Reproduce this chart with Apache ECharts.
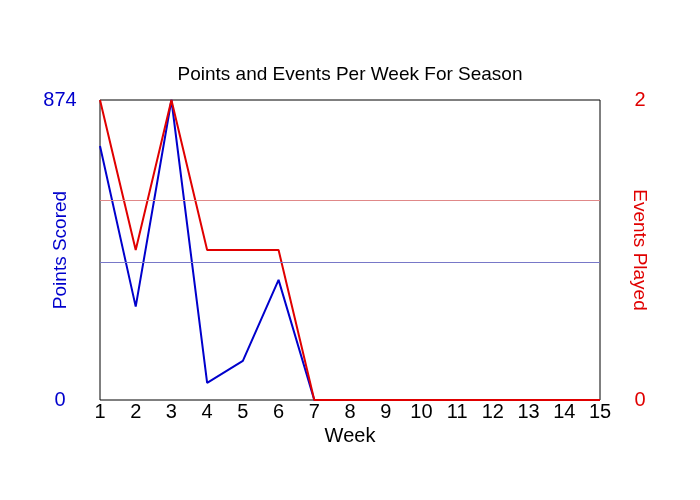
<!DOCTYPE html>
<html>
<head>
<meta charset="utf-8">
<script src="https://cdn.jsdelivr.net/npm/echarts@6/dist/echarts.min.js"></script>
<style>
  html, body { margin: 0; padding: 0; background: #fff; }
  #chart { width: 700px; height: 500px; }
</style>
</head>
<body>
<div id="chart"></div>
<script>
// weeks of the season
var weeks = [1, 2, 3, 4, 5, 6, 7, 8, 9, 10, 11, 12, 13, 14, 15];
// points scored each week
var points = [740, 272, 874, 50, 114, 350, 0, 0, 0, 0, 0, 0, 0, 0, 0];
// events played each week (red line)
var events = [2, 1, 2, 1, 1, 1, 0, 0, 0, 0, 0, 0, 0, 0, 0];

var pointsMax = 874;
var eventsMax = 2;

// average over the weeks that were actually played
function playedAverage(vals) {
  var sum = 0, n = 0;
  for (var i = 0; i < vals.length; i++) {
    if (events[i] > 0) { sum += vals[i]; n++; }
  }
  return n ? sum / n : 0;
}

var blue = '#0000cc';
var red = '#e00000';
var font = 'Liberation Sans, Arial, sans-serif';

var chart = echarts.init(document.getElementById('chart'));

chart.setOption({
  backgroundColor: '#fff',
  animation: false,
  title: {
    text: 'Points and Events Per Week For Season',
    left: 'center',
    top: 60,
    textStyle: { color: '#000', fontSize: 19, fontWeight: 'normal', fontFamily: font }
  },
  grid: {
    left: 100,
    right: 100,
    top: 100,
    bottom: 100,
    show: true,
    borderColor: '#000',
    borderWidth: 1
  },
  xAxis: {
    type: 'value',
    min: 1,
    max: 15,
    interval: 1,
    name: 'Week',
    nameLocation: 'middle',
    nameGap: 22,
    nameTextStyle: { color: '#000', fontSize: 20, fontFamily: font },
    axisLine: { show: false },
    axisTick: { show: false },
    splitLine: { show: false },
    axisLabel: { color: '#000', fontSize: 20, fontFamily: font, margin: 2 }
  },
  yAxis: [
    {
      type: 'value',
      min: 0,
      max: pointsMax,
      interval: pointsMax,
      position: 'left',
      name: 'Points Scored',
      nameLocation: 'middle',
      nameGap: 30,
      nameMoveOverlap: false,
      nameRotate: 90,
      nameTextStyle: { color: blue, fontSize: 19, fontFamily: font },
      axisLine: { show: false },
      axisTick: { show: false },
      splitLine: { show: false },
      axisLabel: { color: blue, fontSize: 20, fontFamily: font, margin: 40, align: 'center' }
    },
    {
      type: 'value',
      min: 0,
      max: eventsMax,
      interval: eventsMax,
      position: 'right',
      name: 'Events Played',
      nameLocation: 'middle',
      nameGap: 30,
      nameMoveOverlap: false,
      nameRotate: -90,
      nameTextStyle: { color: red, fontSize: 19, fontFamily: font },
      axisLine: { show: false },
      axisTick: { show: false },
      splitLine: { show: false },
      axisLabel: { color: red, fontSize: 20, fontFamily: font, margin: 40, align: 'center' }
    }
  ],
  series: [
    {
      name: 'Points Scored',
      type: 'line',
      yAxisIndex: 0,
      showSymbol: false,
      lineStyle: { color: blue, width: 2 },
      itemStyle: { color: blue },
      data: weeks.map(function (w, i) { return [w, points[i]]; }),
      markLine: {
        silent: true,
        symbol: 'none',
        label: { show: false },
        lineStyle: { color: '#7878c8', width: 1, type: 'solid' },
        data: [{ yAxis: playedAverage(points) }]
      }
    },
    {
      name: 'Events Played',
      type: 'line',
      yAxisIndex: 1,
      showSymbol: false,
      lineStyle: { color: red, width: 2 },
      itemStyle: { color: red },
      data: weeks.map(function (w, i) { return [w, events[i]]; }),
      markLine: {
        silent: true,
        symbol: 'none',
        label: { show: false },
        lineStyle: { color: '#e08888', width: 1, type: 'solid' },
        data: [{ yAxis: playedAverage(events) }]
      }
    }
  ]
});
</script>
</body>
</html>
